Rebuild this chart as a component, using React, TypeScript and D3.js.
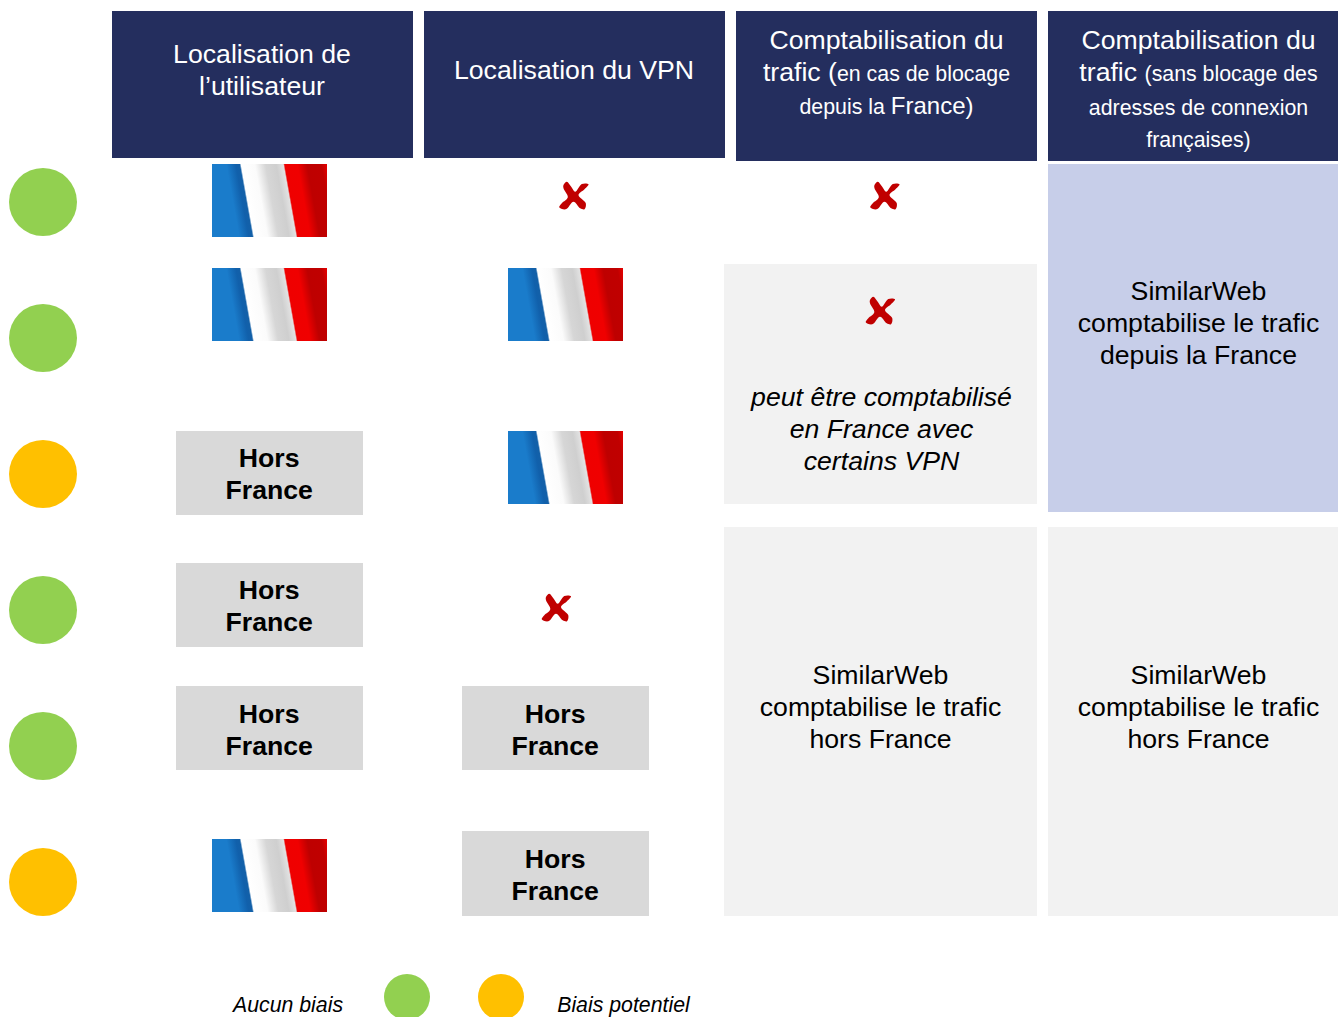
import React from "react";
import * as d3 from "d3";

const FONT = '"Liberation Sans", Arial, sans-serif';
const NAVY = "#242e5e";
const GREEN = "#92d050";
const ORANGE = "#ffc000";
const PANEL = "#f2f2f2";
const BLUE_PANEL = "#c7cee9";
const GREY_BOX = "#d9d9d9";
const TEXT_SIZE = 26.67;
const SMALL_SIZE = 21.33;
const MID_SIZE = 24;

type Span = { t: string; size?: number };

// one status per scenario row
const rowBias = ["none", "none", "potential", "none", "none", "potential"];
const userLocation = ["France", "France", "Hors France", "Hors France", "Hors France", "France"];
const vpnLocation = ["none", "France", "France", "none", "Hors France", "Hors France"];

const headerLines: Span[][][] = [
  [[{ t: "Localisation de" }], [{ t: "l’utilisateur" }]],
  [[{ t: "Localisation du VPN" }]],
  [
    [{ t: "Comptabilisation du" }],
    [{ t: "trafic (" }, { t: "en cas de blocage", size: SMALL_SIZE }],
    [{ t: "depuis la ", size: SMALL_SIZE }, { t: "France)", size: MID_SIZE }],
  ],
  [
    [{ t: "Comptabilisation du" }],
    [{ t: "trafic " }, { t: "(sans blocage des", size: SMALL_SIZE }],
    [{ t: "adresses de connexion", size: SMALL_SIZE }],
    [{ t: "françaises)", size: SMALL_SIZE }],
  ],
];

const countedFrance = ["SimilarWeb", "comptabilise le trafic", "depuis la France"];
const countedAbroad = ["SimilarWeb", "comptabilise le trafic", "hors France"];
const vpnCaveat = ["peut être comptabilisé", "en France avec", "certains VPN"];
const horsFrance = ["Hors", "France"];

// layout, in pixels of the picture
const headerBoxes = [
  { x: 112, w: 301, h: 147, cx: 262, base: [63, 95] },
  { x: 424, w: 301, h: 147, cx: 574, base: [79] },
  { x: 736, w: 301, h: 150, cx: 886.5, base: [49, 81, 114] },
  { x: 1048, w: 290, h: 150, cx: 1198.5, base: [49, 81, 115, 147] },
];
const panels = [
  { x: 724, y: 264, x2: 1037, y2: 504, fill: PANEL },
  { x: 724, y: 527, x2: 1037, y2: 916, fill: PANEL },
  { x: 1048, y: 527, x2: 1338, y2: 916, fill: PANEL },
  { x: 1048, y: 164, x2: 1338, y2: 512, fill: BLUE_PANEL },
];
const userCellY = [164, 268, 431, 563, 686, 839];
const vpnCellY = [0, 268, 431, 0, 686, 831];
const vpnCrossPos: Record<number, { x: number; y: number }> = {
  0: { x: 574.5, y: 196 },
  3: { x: 557, y: 608 },
};
const extraCrosses = [
  { x: 885.5, y: 196 },
  { x: 881, y: 311 },
];

// outline of the hand drawn cross, around its centre
const crossOutline: [number, number][] = [
  [-7.7, -14.3], [-3.3, -9.3], [0.7, -4.3], [7.3, -12], [14, -11.7], [10, -6.7],
  [4, -1], [11.3, 7.3], [10, 13.3], [5.7, 12.3], [-1, 5.7], [-8.7, 13.3],
  [-15.3, 11.3], [-12.7, 7.3], [-6.7, 1.3], [-11, -7.7], [-11, -11],
];

const rowScale = d3
  .scalePoint<number>()
  .domain(d3.range(rowBias.length))
  .range([202, 882]);

const biasColor = d3
  .scaleOrdinal<string, string>()
  .domain(["none", "potential"])
  .range([GREEN, ORANGE]);

const crossPath = d3.line().curve(d3.curveCatmullRomClosed.alpha(0.5))(crossOutline) ?? "";

const Flag: React.FC<{ x: number; y: number }> = ({ x, y }) => (
  <rect x={0} y={0} width={115} height={73} fill="url(#flag)" transform={`translate(${x},${y})`} />
);

const Cross: React.FC<{ x: number; y: number }> = ({ x, y }) => (
  <path d={crossPath} transform={`translate(${x},${y})`} fill="#c00000" />
);

const GreyBox: React.FC<{ cx: number; y: number; h?: number; dy?: number }> = ({
  cx,
  y,
  h = 84,
  dy = 36,
}) => (
  <g>
    <rect x={cx - 93.5} y={y} width={187} height={h} fill={GREY_BOX} />
    {horsFrance.map((line, i) => (
      <text
        key={line}
        x={cx - 0.3}
        y={y + dy + i * 32}
        textAnchor="middle"
        fontWeight="bold"
        fontSize={TEXT_SIZE}
      >
        {line}
      </text>
    ))}
  </g>
);

const Block: React.FC<{ lines: string[]; x: number; y: number; italic?: boolean }> = ({
  lines,
  x,
  y,
  italic,
}) => (
  <g>
    {lines.map((line, i) => (
      <text
        key={line}
        x={x}
        y={y + i * 32}
        textAnchor="middle"
        fontSize={TEXT_SIZE}
        fontStyle={italic ? "italic" : "normal"}
      >
        {line}
      </text>
    ))}
  </g>
);

export default function App() {
  return (
    <svg
      width={1338}
      height={1017}
      viewBox="0 0 1338 1017"
      fontFamily={FONT}
      fill="#000"
      style={{ position: "absolute", left: 0, top: 0, display: "block" }}
    >
      <defs>
        {/* slanted bands of the waving flag */}
        <linearGradient id="flag" gradientUnits="userSpaceOnUse" x1={0} y1={0} x2={115} y2={-20.5}>
          <stop offset="0" stopColor="#1a7ccb" />
          <stop offset="0.12" stopColor="#1a7ccb" />
          <stop offset="0.2" stopColor="#1160ab" />
          <stop offset="0.232" stopColor="#1360a8" />
          <stop offset="0.245" stopColor="#ffffff" />
          <stop offset="0.36" stopColor="#fbfbfb" />
          <stop offset="0.45" stopColor="#d6d6d6" />
          <stop offset="0.54" stopColor="#cfcfcf" />
          <stop offset="0.6" stopColor="#e2e2e2" />
          <stop offset="0.612" stopColor="#ef0000" />
          <stop offset="0.72" stopColor="#f00000" />
          <stop offset="0.8" stopColor="#be0000" />
          <stop offset="0.92" stopColor="#c00000" />
          <stop offset="0.97" stopColor="#e80000" />
        </linearGradient>
      </defs>

      {headerBoxes.map((b, i) => (
        <g key={b.x}>
          <rect x={b.x} y={11} width={b.w} height={b.h} fill={NAVY} />
          {headerLines[i].map((spans, j) => (
            <text
              key={j}
              x={b.cx}
              y={b.base[j]}
              textAnchor="middle"
              fill="#fff"
              fontSize={TEXT_SIZE}
            >
              {spans.map((s) => (
                <tspan key={s.t} fontSize={s.size ?? TEXT_SIZE}>
                  {s.t}
                </tspan>
              ))}
            </text>
          ))}
        </g>
      ))}

      {panels.map((p) => (
        <rect key={`${p.x}-${p.y}`} x={p.x} y={p.y} width={p.x2 - p.x} height={p.y2 - p.y} fill={p.fill} />
      ))}

      {rowBias.map((b, i) => (
        <circle key={i} cx={43} cy={rowScale(i)} r={34} fill={biasColor(b)} />
      ))}

      {userLocation.map((loc, i) =>
        loc === "France" ? (
          <Flag key={i} x={212} y={userCellY[i]} />
        ) : (
          <GreyBox key={i} cx={269.5} y={userCellY[i]} dy={i === 4 ? 37 : 36} />
        )
      )}

      {vpnLocation.map((loc, i) => {
        if (loc === "France") return <Flag key={i} x={508} y={vpnCellY[i]} />;
        if (loc === "Hors France")
          return <GreyBox key={i} cx={555.5} y={vpnCellY[i]} h={i === 5 ? 85 : 84} dy={37} />;
        return <Cross key={i} {...vpnCrossPos[i]} />;
      })}

      {extraCrosses.map((c) => (
        <Cross key={c.y} {...c} />
      ))}

      <Block lines={vpnCaveat} x={881.5} y={406} italic />
      <Block lines={countedFrance} x={1198.5} y={300} />
      <Block lines={countedAbroad} x={880.5} y={684} />
      <Block lines={countedAbroad} x={1198.5} y={684} />

      <text x={288} y={1012} textAnchor="middle" fontStyle="italic" fontSize={21.3}>
        Aucun biais
      </text>
      <circle cx={407} cy={997} r={23} fill={GREEN} />
      <circle cx={501} cy={997} r={23} fill={ORANGE} />
      <text x={623.5} y={1012} textAnchor="middle" fontStyle="italic" fontSize={21.3}>
        Biais potentiel
      </text>
    </svg>
  );
}
